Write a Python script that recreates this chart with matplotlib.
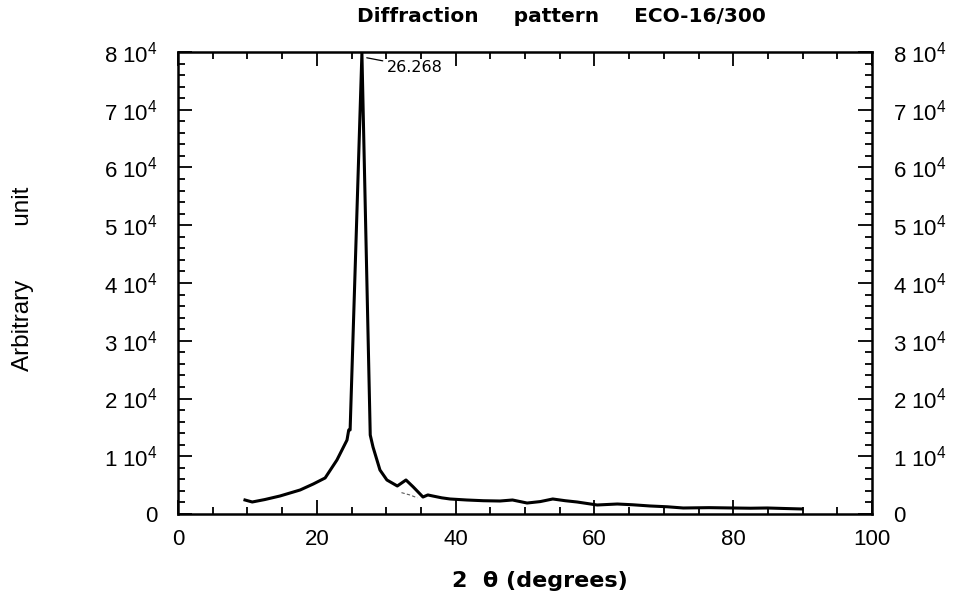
import matplotlib.pyplot as plt
from matplotlib.ticker import MultipleLocator, FixedLocator

# 2-theta (deg) and intensity (counts)
two_theta = [9.65, 10.7, 12.5, 14.7, 17.6, 19.5, 21.2, 22.9, 24.35, 24.6, 24.8,
             26.5,
             27.7, 28.1, 29.1, 30.1, 31.6, 32.85, 33.9, 35.3, 36.0, 36.7, 38.0,
             39.2, 41.6, 44.0, 46.4, 48.2, 50.3, 52.2, 54.0, 55.8, 57.5, 60.4,
             63.3, 65.5, 68.0, 70.5, 72.8, 76.5, 80.0, 82.5, 84.9, 87.5, 89.9]
intensity = [2425, 2080, 2500, 3120, 4160, 5200, 6240, 9350, 12800, 14550, 14550,
             79800,
             13680, 11600, 7620, 5890, 4850, 5890, 4680, 2940, 3300, 3120, 2800,
             2600, 2425, 2300, 2250, 2425, 1900, 2150, 2600, 2300, 2080, 1560,
             1730, 1600, 1390, 1250, 1040, 1100, 1040, 1000, 1040, 950, 870]

# faint dashed component under the small 33 deg bump
dash_x = [32.2, 33.4, 34.5]
dash_y = [3700, 3300, 2800]

peak_lbl = "26.268"

x_ticks = [0, 20, 40, 60, 80, 100]
y_ticks = [0, 1e4, 2e4, 3e4, 4e4, 5e4, 6e4, 7e4, 8e4]
y_labels = ["0"] + [rf"{i} 10$^{{4}}$" for i in range(1, 9)]

plt.rcParams['font.family'] = ['Liberation Sans', 'DejaVu Sans']
plt.rcParams['mathtext.fontset'] = 'custom'
plt.rcParams['mathtext.rm'] = 'Liberation Sans'

fig = plt.figure(figsize=(9.56, 5.99), dpi=100)
L, R, T, B = 178, 872, 52, 514
ax = fig.add_axes([L/956, 1 - B/599, (R-L)/956, (B-T)/599])

ax.plot(two_theta, intensity, color='black', lw=2.2, solid_joinstyle='round')
ax.plot(dash_x, dash_y, color='0.35', lw=0.8, ls=(0, (3, 2)))

ax.set_xlim(0, 100)
ax.set_ylim(0, 80000)
ax.xaxis.set_major_locator(FixedLocator(x_ticks))
ax.xaxis.set_minor_locator(MultipleLocator(5))
ax.yaxis.set_major_locator(FixedLocator(y_ticks))
ax.yaxis.set_minor_locator(MultipleLocator(2000))
ax.set_xticklabels([str(t) for t in x_ticks])
ax.set_yticklabels(y_labels)

ax.tick_params(which='both', direction='in', top=True, right=True,
               labelright=True, width=1.3, colors='black', labelsize=16)
ax.tick_params(which='major', length=10)
ax.tick_params(which='minor', length=5)
ax.tick_params(axis='y', pad=15)
ax.tick_params(axis='x', pad=11)
for s in ax.spines.values():
    s.set_linewidth(1.8)

# peak marker
ax.annotate(peak_lbl, xy=(27.2, 79000), xytext=(30.1, 77400),
            fontsize=11.5, va='center', ha='left', family=['DejaVu Sans'],
            arrowprops=dict(arrowstyle='-', lw=0.9, color='black',
                            shrinkA=1, shrinkB=0))

fig.text(561/956, 1 - 16/599, "Diffraction     pattern     ECO-16/300",
         ha='center', va='center', fontsize=14.5, fontweight='bold',
         family=['DejaVu Sans'])
fig.text(540/956, 1 - 581/599, "2  θ (degrees)", ha='center', va='center',
         fontsize=16, fontweight='bold', family=['DejaVu Sans'])
fig.text(23/956, 1 - 279/599, "Arbitrary        unit", rotation=90,
         ha='center', va='center', fontsize=17.5)

fig.savefig("out.png", dpi=100)
